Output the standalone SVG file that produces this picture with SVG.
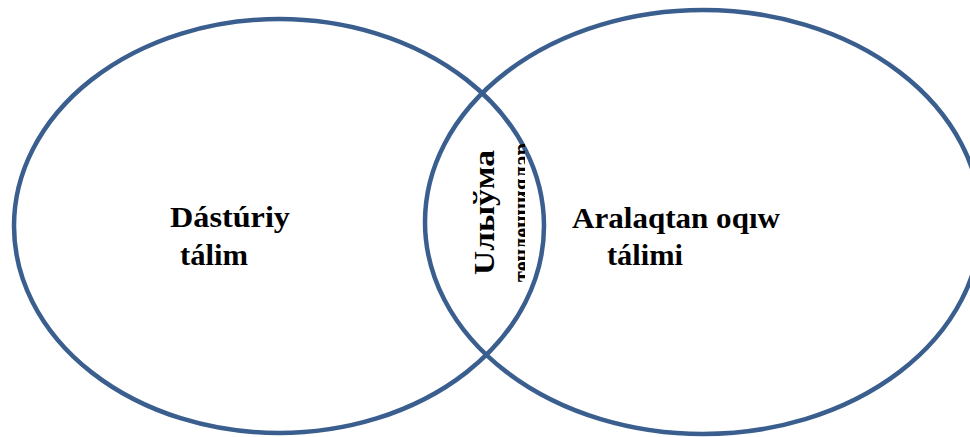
<svg xmlns="http://www.w3.org/2000/svg" width="970" height="437" viewBox="0 0 970 437">
<style>
.ring{fill:none;stroke:#3a5f8f;stroke-width:4.5}
.lbl{font-family:"Liberation Serif","Times New Roman",serif;font-weight:bold;font-size:30px;fill:#000}
</style>
<defs>
<clipPath id="clip2"><rect x="515" y="130" width="10" height="170"/></clipPath>
</defs>
<rect width="970" height="437" fill="#fff"/>
<g id="left">
<ellipse class="ring" cx="279" cy="226" rx="265" ry="207"/>
<text class="lbl" x="170" y="227" textLength="120" lengthAdjust="spacingAndGlyphs">Dástúriy</text>
<text class="lbl" x="180" y="265" textLength="68" lengthAdjust="spacingAndGlyphs">tálim</text>
</g>
<g id="right">
<ellipse class="ring" cx="703" cy="222" rx="278" ry="212"/>
<text class="lbl" x="572" y="228" textLength="208" lengthAdjust="spacingAndGlyphs">Aralaqtan oqıw</text>
<text class="lbl" x="607" y="265" textLength="76" lengthAdjust="spacingAndGlyphs">tálimi</text>
</g>
<g id="middle">
<text class="lbl" transform="translate(494,275) rotate(-90)" textLength="125" lengthAdjust="spacingAndGlyphs">Uлыўма</text>
<g clip-path="url(#clip2)">
<text class="lbl" transform="translate(532,282) rotate(-90)" textLength="139" lengthAdjust="spacingAndGlyphs">тенденциялар</text>
</g>
</g>
</svg>
